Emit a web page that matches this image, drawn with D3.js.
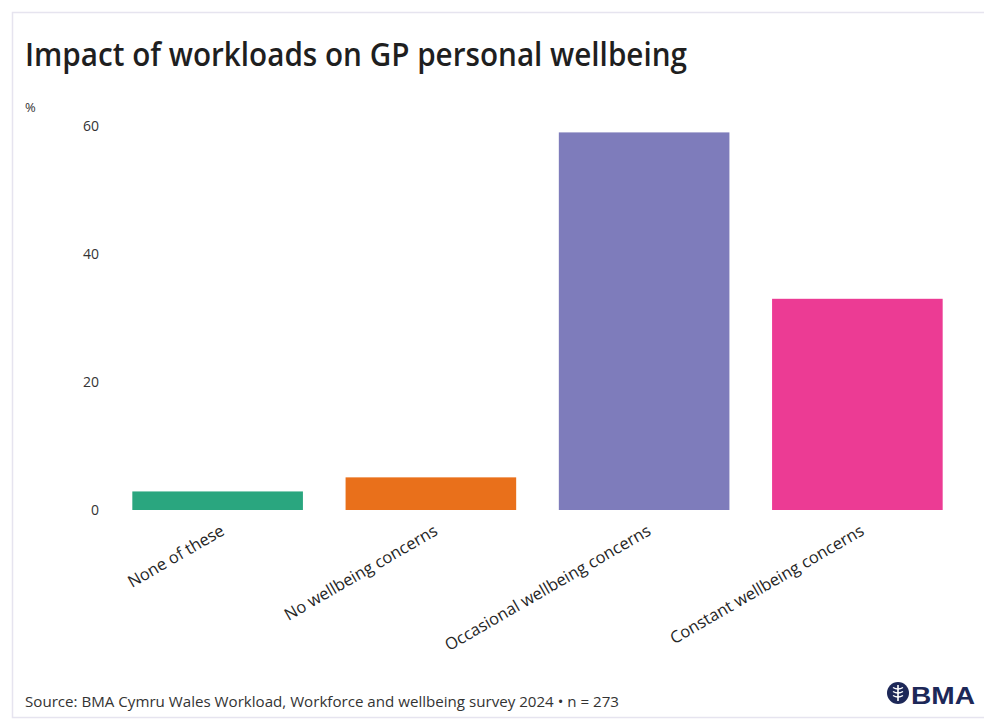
<!DOCTYPE html>
<html>
<head>
<meta charset="utf-8">
<script src="https://cdn.jsdelivr.net/npm/d3@7"></script>
<style>
  html, body { margin: 0; padding: 0; background: #ffffff; }
  svg { display: block; }
  text { font-family: "Open Sans", "Noto Sans", sans-serif; fill: #2b2b2b; }
</style>
</head>
<body>
<svg id="chart" width="984" height="727"></svg>
<script>
// Survey responses (share of respondents, %)
const categories = [
  "None of these",
  "No wellbeing concerns",
  "Occasional wellbeing concerns",
  "Constant wellbeing concerns"
];
const values = [2.9, 5.1, 59.0, 33.0];
const barColors = ["#2aa67f", "#e9701b", "#7e7cbb", "#ec3b94"];
const yTicks = [0, 20, 40, 60];

const titleText = "Impact of workloads on GP personal wellbeing";
const unitText = "%";
const sourceText = "Source: BMA Cymru Wales Workload, Workforce and wellbeing survey 2024 \u2022 n = 273";

const svg = d3.select("#chart");

// card frame
svg.append("rect")
  .attr("x", 12.5).attr("y", 12.5)
  .attr("width", 990).attr("height", 705)
  .attr("fill", "#ffffff")
  .attr("stroke", "#e6e4ef")
  .attr("stroke-width", 1.5);

// title
svg.append("text")
  .attr("x", 25).attr("y", 66)
  .attr("font-size", 32)
  .attr("font-weight", 600)
  .attr("textLength", 662)
  .attr("lengthAdjust", "spacingAndGlyphs")
  .style("fill", "#1f1f1f")
  .text(titleText);

// scales
const x = d3.scaleBand()
  .domain(categories)
  .range([111, 964])
  .paddingInner(0.2)
  .paddingOuter(0.1);

const y = d3.scaleLinear()
  .domain([0, 60])
  .range([510, 126]);

// y axis (labels only)
const yAxis = d3.axisLeft(y)
  .tickValues(yTicks)
  .tickSize(0)
  .tickPadding(0);

const gy = svg.append("g")
  .attr("transform", "translate(99,0)")
  .call(yAxis);
gy.select(".domain").remove();
gy.selectAll("text")
  .attr("font-size", 14)
  .style("font-family", "'Open Sans', sans-serif")
  .style("fill", "#333333");

svg.append("text")
  .attr("x", 25).attr("y", 112)
  .attr("font-size", 13)
  .style("fill", "#333333")
  .text(unitText);

// bars
svg.append("g")
  .selectAll("rect")
  .data(values)
  .join("rect")
  .attr("x", (d, i) => x(categories[i]))
  .attr("y", d => y(d))
  .attr("width", x.bandwidth())
  .attr("height", d => y(0) - y(d))
  .attr("fill", (d, i) => barColors[i]);

// x axis (rotated category labels)
const xAxis = d3.axisBottom(x).tickSize(0).tickPadding(0);
const gx = svg.append("g")
  .attr("transform", "translate(0,522)")
  .call(xAxis);
gx.select(".domain").remove();
gx.selectAll("text")
  .attr("font-size", 16.5)
  .style("font-family", "'Open Sans', sans-serif")
  .style("fill", "#262626")
  .attr("text-anchor", "end")
  .attr("dy", 0)
  .attr("y", 0)
  .attr("transform", "translate(8,12) rotate(-30)");

// source note
svg.append("text")
  .attr("x", 25).attr("y", 707)
  .attr("font-size", 14)
  .attr("textLength", 594)
  .attr("lengthAdjust", "spacingAndGlyphs")
  .style("fill", "#333333")
  .text(sourceText);

// BMA mark
const logo = svg.append("g").attr("transform", "translate(898,693)");
logo.append("circle").attr("r", 11).attr("fill", "#1d2858");
logo.append("line").attr("x1", 0).attr("y1", -8).attr("x2", 0).attr("y2", 8)
  .attr("stroke", "#ffffff").attr("stroke-width", 1.6);
[-4, 0, 4].forEach(dy => {
  logo.append("path")
    .attr("d", `M-5,${dy - 1.5} Q0,${dy + 1.5} 5,${dy - 1.5}`)
    .attr("fill", "none").attr("stroke", "#ffffff").attr("stroke-width", 1.4);
});
svg.append("text")
  .attr("x", 911).attr("y", 704)
  .attr("font-size", 24)
  .attr("font-weight", 700)
  .attr("textLength", 64)
  .attr("lengthAdjust", "spacingAndGlyphs")
  .style("font-family", "'Liberation Sans', Arial, sans-serif")
  .style("fill", "#1d2858")
  .text("BMA");
</script>
</body>
</html>
